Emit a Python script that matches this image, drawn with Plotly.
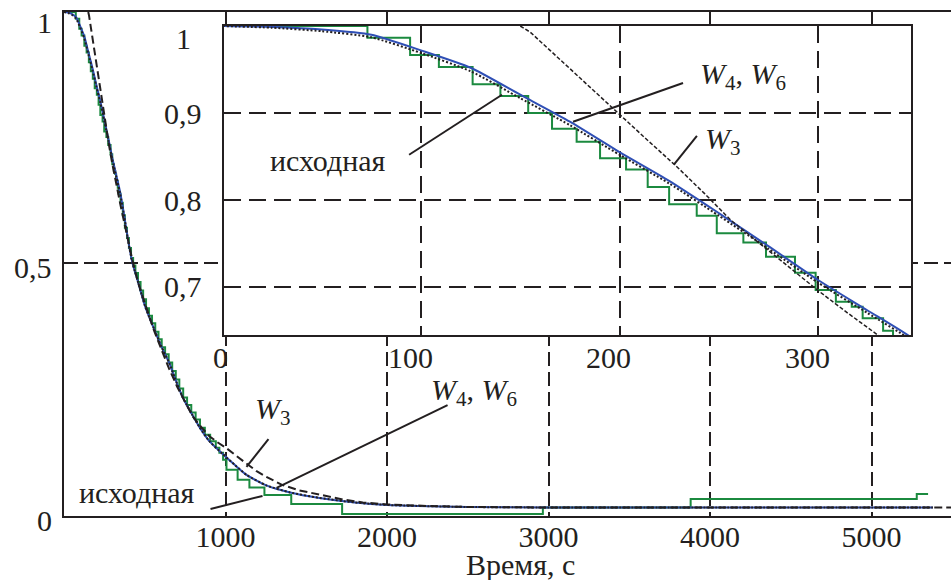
import plotly.graph_objects as go

# ---------------- data ----------------
# smooth approximation W4 (blue)
w4_t = [0, 25, 50, 75, 100, 125, 150, 175, 200, 225, 250, 275, 300, 325, 347, 370, 400, 424, 455, 504,
        560, 604, 653, 684, 734, 790, 839, 900, 981, 1060, 1130, 1253, 1400, 1582, 1800, 2000, 2500, 3000,
        4000, 5000, 5380]
w4_v = [1.0, 0.999, 0.996, 0.99, 0.972, 0.952, 0.921, 0.89, 0.855, 0.822, 0.785, 0.747, 0.708, 0.673, 0.642,
        0.60, 0.54, 0.50, 0.466, 0.412, 0.367, 0.333, 0.30, 0.273, 0.233, 0.2, 0.173, 0.145, 0.12, 0.097, 0.078,
        0.057, 0.043, 0.032, 0.023, 0.018, 0.014, 0.013, 0.013, 0.013, 0.013]
# approximation W6 (dotted black)
w6_t = w4_t
w6_v = [1.0, 0.998, 0.994, 0.987, 0.969, 0.948, 0.917, 0.886, 0.852, 0.819, 0.782, 0.744, 0.705, 0.670, 0.639,
        0.598, 0.539, 0.50, 0.466, 0.412, 0.367, 0.333, 0.30, 0.273, 0.233, 0.2, 0.173, 0.145, 0.12, 0.097, 0.078,
        0.057, 0.043, 0.032, 0.023, 0.018, 0.014, 0.013, 0.013, 0.013, 0.013]
# approximation W3 (dashed black)
w3_t = [150, 155, 165, 182, 199, 214, 229, 243, 256, 278, 300, 315, 330, 350, 370, 395, 424, 460, 504, 550,
        604, 650, 700, 750, 796, 850, 900, 950, 1006, 1070, 1130, 1190, 1253, 1350, 1458, 1582, 1725, 1850,
        2000, 2250, 2500, 3000, 4000, 5000, 5500]
w3_v = [1.0, 0.993, 0.972, 0.936, 0.90, 0.869, 0.838, 0.807, 0.777, 0.736, 0.696, 0.670, 0.645, 0.615, 0.585,
        0.547, 0.505, 0.46, 0.415, 0.372, 0.327, 0.29, 0.254, 0.222, 0.195, 0.173, 0.155, 0.143, 0.131, 0.115,
        0.10, 0.086, 0.074, 0.058, 0.047, 0.038, 0.029, 0.023, 0.019, 0.016, 0.014, 0.013, 0.013, 0.013, 0.013]
# original (stepwise, green)
src_t = [0, 73, 94.5, 109, 126, 140, 154, 166, 178.4, 190.2, 203.3, 214.2, 225, 238.9, 249, 262.4, 273.8,
         288.4, 298.8, 309, 317, 322.5, 332.8, 337.8, 350, 364, 377, 390, 402, 415, 428, 442, 458, 474, 490,
         508, 526, 545, 565, 585, 605, 626, 648, 670, 692, 714, 738, 762, 788, 815, 842, 872, 905, 940, 962,
         985, 1006, 1075, 1148, 1241, 1407, 1722, 2965, 3880, 5280, 5350]
src_v = [1.0, 0.9866, 0.9667, 0.953, 0.933, 0.9195, 0.900, 0.882, 0.867, 0.848, 0.835, 0.815, 0.795, 0.782,
         0.7617, 0.751, 0.7349, 0.7165, 0.6966, 0.6831, 0.6774, 0.664, 0.6498, 0.638, 0.62, 0.595, 0.57, 0.55,
         0.53, 0.51, 0.495, 0.48, 0.462, 0.445, 0.428, 0.41, 0.395, 0.38, 0.363, 0.348, 0.332, 0.318, 0.302,
         0.285, 0.268, 0.25, 0.232, 0.217, 0.202, 0.188, 0.172, 0.158, 0.145, 0.132, 0.122, 0.108, 0.088,
         0.068, 0.053, 0.038, 0.020, 0.0, 0.013, 0.030, 0.040, 0.040]

main_x_ticks = [1000, 2000, 3000, 4000, 5000]
main_x_labels = ["1000", "2000", "3000", "4000", "5000"]
main_y_ticks = [0, 0.5, 1]
main_y_labels = ["0", "0,5", "1"]
inset_x_ticks = [0, 100, 200, 300]
inset_x_labels = ["0", "100", "200", "300"]
inset_y_ticks = [0.7, 0.8, 0.9, 1.0]
inset_y_labels = ["0,7", "0,8", "0,9", "1"]

# ---------------- styling ----------------
FONT = "Liberation Serif"
INK = "#231f20"
GREEN = "#1b8a3f"
BLUE = "#2f4fb5"
W, H = 951, 580
ML, MR, MT, MB = 64, 0, 12, 64
FS = 30

fig = go.Figure()

for xa, ya, inset in (("x", "y", False), ("x2", "y2", True)):
    fig.add_trace(go.Scatter(x=src_t, y=src_v, mode="lines", line=dict(color=GREEN, width=2, shape="hv"),
                             xaxis=xa, yaxis=ya, showlegend=False))
    fig.add_trace(go.Scatter(x=w4_t, y=w4_v, mode="lines", line=dict(color=BLUE, width=2, shape="spline", smoothing=0.6),
                             xaxis=xa, yaxis=ya, showlegend=False))
    fig.add_trace(go.Scatter(x=w6_t, y=w6_v, mode="lines",
                             line=dict(color=INK, width=2, dash="2px,2px", shape="spline", smoothing=0.6),
                             xaxis=xa, yaxis=ya, showlegend=False))
    fig.add_trace(go.Scatter(x=w3_t, y=w3_v, mode="lines",
                             line=dict(color=INK, width=1.5 if inset else 2,
                                       dash="4px,2px" if inset else "8px,4px"),
                             xaxis=xa, yaxis=ya, showlegend=False))

grid_main = dict(showgrid=True, gridcolor=INK, gridwidth=2, griddash="14px,6px", zeroline=False)
grid_inset = dict(showgrid=True, gridcolor=INK, gridwidth=2, griddash="17px,8px", zeroline=False)

fig.update_layout(
    width=W, height=H,
    margin=dict(l=ML, r=MR, t=MT, b=MB, pad=0),
    paper_bgcolor="white", plot_bgcolor="white",
    font=dict(family=FONT, size=FS, color=INK),
    showlegend=False,
    xaxis=dict(domain=[0, 1], range=[0, 5492], tickmode="array", tickvals=main_x_ticks, ticktext=main_x_labels,
               ticks="", showline=True, mirror=True, linecolor=INK, linewidth=2, anchor="y",
               ticklabelstandoff=-7,
               tickfont=dict(family=FONT, size=FS, color=INK), **grid_main),
    yaxis=dict(domain=[0, 1], range=[-0.004, 1.0], tickmode="array", tickvals=[0.5], showticklabels=False,
               ticks="", showline=True, mirror=False, linecolor=INK, linewidth=2, anchor="x", **grid_main),
    xaxis2=dict(domain=[0.1804, 0.9549], range=[0.75, 346.85], tickmode="array", tickvals=[100, 200, 300],
                showticklabels=False, ticks="", showline=True, mirror=True, linecolor=INK, linewidth=2,
                anchor="y2", **grid_inset),
    yaxis2=dict(domain=[0.3591, 0.9722], range=[0.6448, 1.0], tickmode="array", tickvals=[0.7, 0.8, 0.9],
                showticklabels=False, ticks="", showline=True, mirror=True, linecolor=INK, linewidth=2,
                anchor="x2", **grid_inset),
)

ann = []
# main y tick labels
y_shift = {0: -7, 0.5: -4, 1: -10}
for v, lab in zip(main_y_ticks, main_y_labels):
    ann.append(dict(text=lab, xref="paper", x=0, xanchor="right", xshift=-10, yref="y", y=v,
                    yanchor="middle", yshift=y_shift[v], showarrow=False, font=dict(size=FS)))
# inset tick labels
for v, lab in zip(inset_x_ticks, inset_x_labels):
    if v == 0:
        ann.append(dict(text=lab, xref="x2 domain", x=0, xanchor="center", xshift=-4,
                        yref="y2 domain", y=0, yanchor="middle", yshift=-22, showarrow=False, font=dict(size=FS)))
    else:
        ann.append(dict(text=lab, xref="x2", x=v, xanchor="center", xshift=-11,
                        yref="y2 domain", y=0, yanchor="middle", yshift=-22, showarrow=False, font=dict(size=FS)))
for v, lab in zip(inset_y_ticks, inset_y_labels):
    ann.append(dict(text=lab, xref="x2 domain", x=0, xanchor="center", xshift=-41, yref="y2", y=v,
                    yanchor="middle", yshift=-12 if v == 1.0 else 0, showarrow=False, font=dict(size=FS)))
# axis title
ann.append(dict(text="Время, с", xref="paper", x=(520 - ML) / (W - ML - MR), xanchor="center",
                yref="paper", y=-48 / (H - MT - MB), yanchor="middle", showarrow=False, font=dict(size=FS)))
# curve labels (main)
ann += [
    dict(text="<i>W</i><sub>3</sub>", xref="x", yref="y", x=1291, y=0.205, showarrow=False, font=dict(size=FS)),
    dict(text="<i>W</i><sub>4</sub>, <i>W</i><sub>6</sub>", xref="x", yref="y", x=2536, y=0.243,
         showarrow=False, font=dict(size=FS)),
    dict(text="исходная", xref="x", yref="y", x=449, y=0.042, showarrow=False, font=dict(size=FS)),
    # inset
    dict(text="исходная", xref="x2", yref="y2", x=53.1, y=0.845, showarrow=False, font=dict(size=FS)),
    dict(text="<i>W</i><sub>4</sub>, <i>W</i><sub>6</sub>", xref="x2", yref="y2", x=262.2, y=0.9425,
         showarrow=False, font=dict(size=FS)),
    dict(text="<i>W</i><sub>3</sub>", xref="x2", yref="y2", x=252, y=0.868, showarrow=False, font=dict(size=FS)),
]
fig.update_layout(annotations=ann)

leader = dict(color=INK, width=2)
shapes = [
    dict(type="line", xref="x", yref="y", x0=1266, y0=0.149, x1=1130, y1=0.094, line=leader),
    dict(type="line", xref="x", yref="y", x0=2375, y0=0.217, x1=1316, y1=0.052, line=leader),
    dict(type="line", xref="x", yref="y", x0=907, y0=0.010, x1=1229, y1=0.036, line=leader),
    dict(type="line", xref="x2", yref="y2", x0=94, y0=0.852, x1=140.8, y1=0.921, line=leader),
    dict(type="line", xref="x2", yref="y2", x0=232, y0=0.9345, x1=176.6, y1=0.890, line=leader),
    dict(type="line", xref="x2", yref="y2", x0=239, y0=0.8736, x1=227.5, y1=0.841, line=leader),
]
fig.update_layout(shapes=shapes)

fig.write_html("out.html", config={"displayModeBar": False},
               post_script="document.body.style.margin='0';document.body.style.overflow='hidden';")
